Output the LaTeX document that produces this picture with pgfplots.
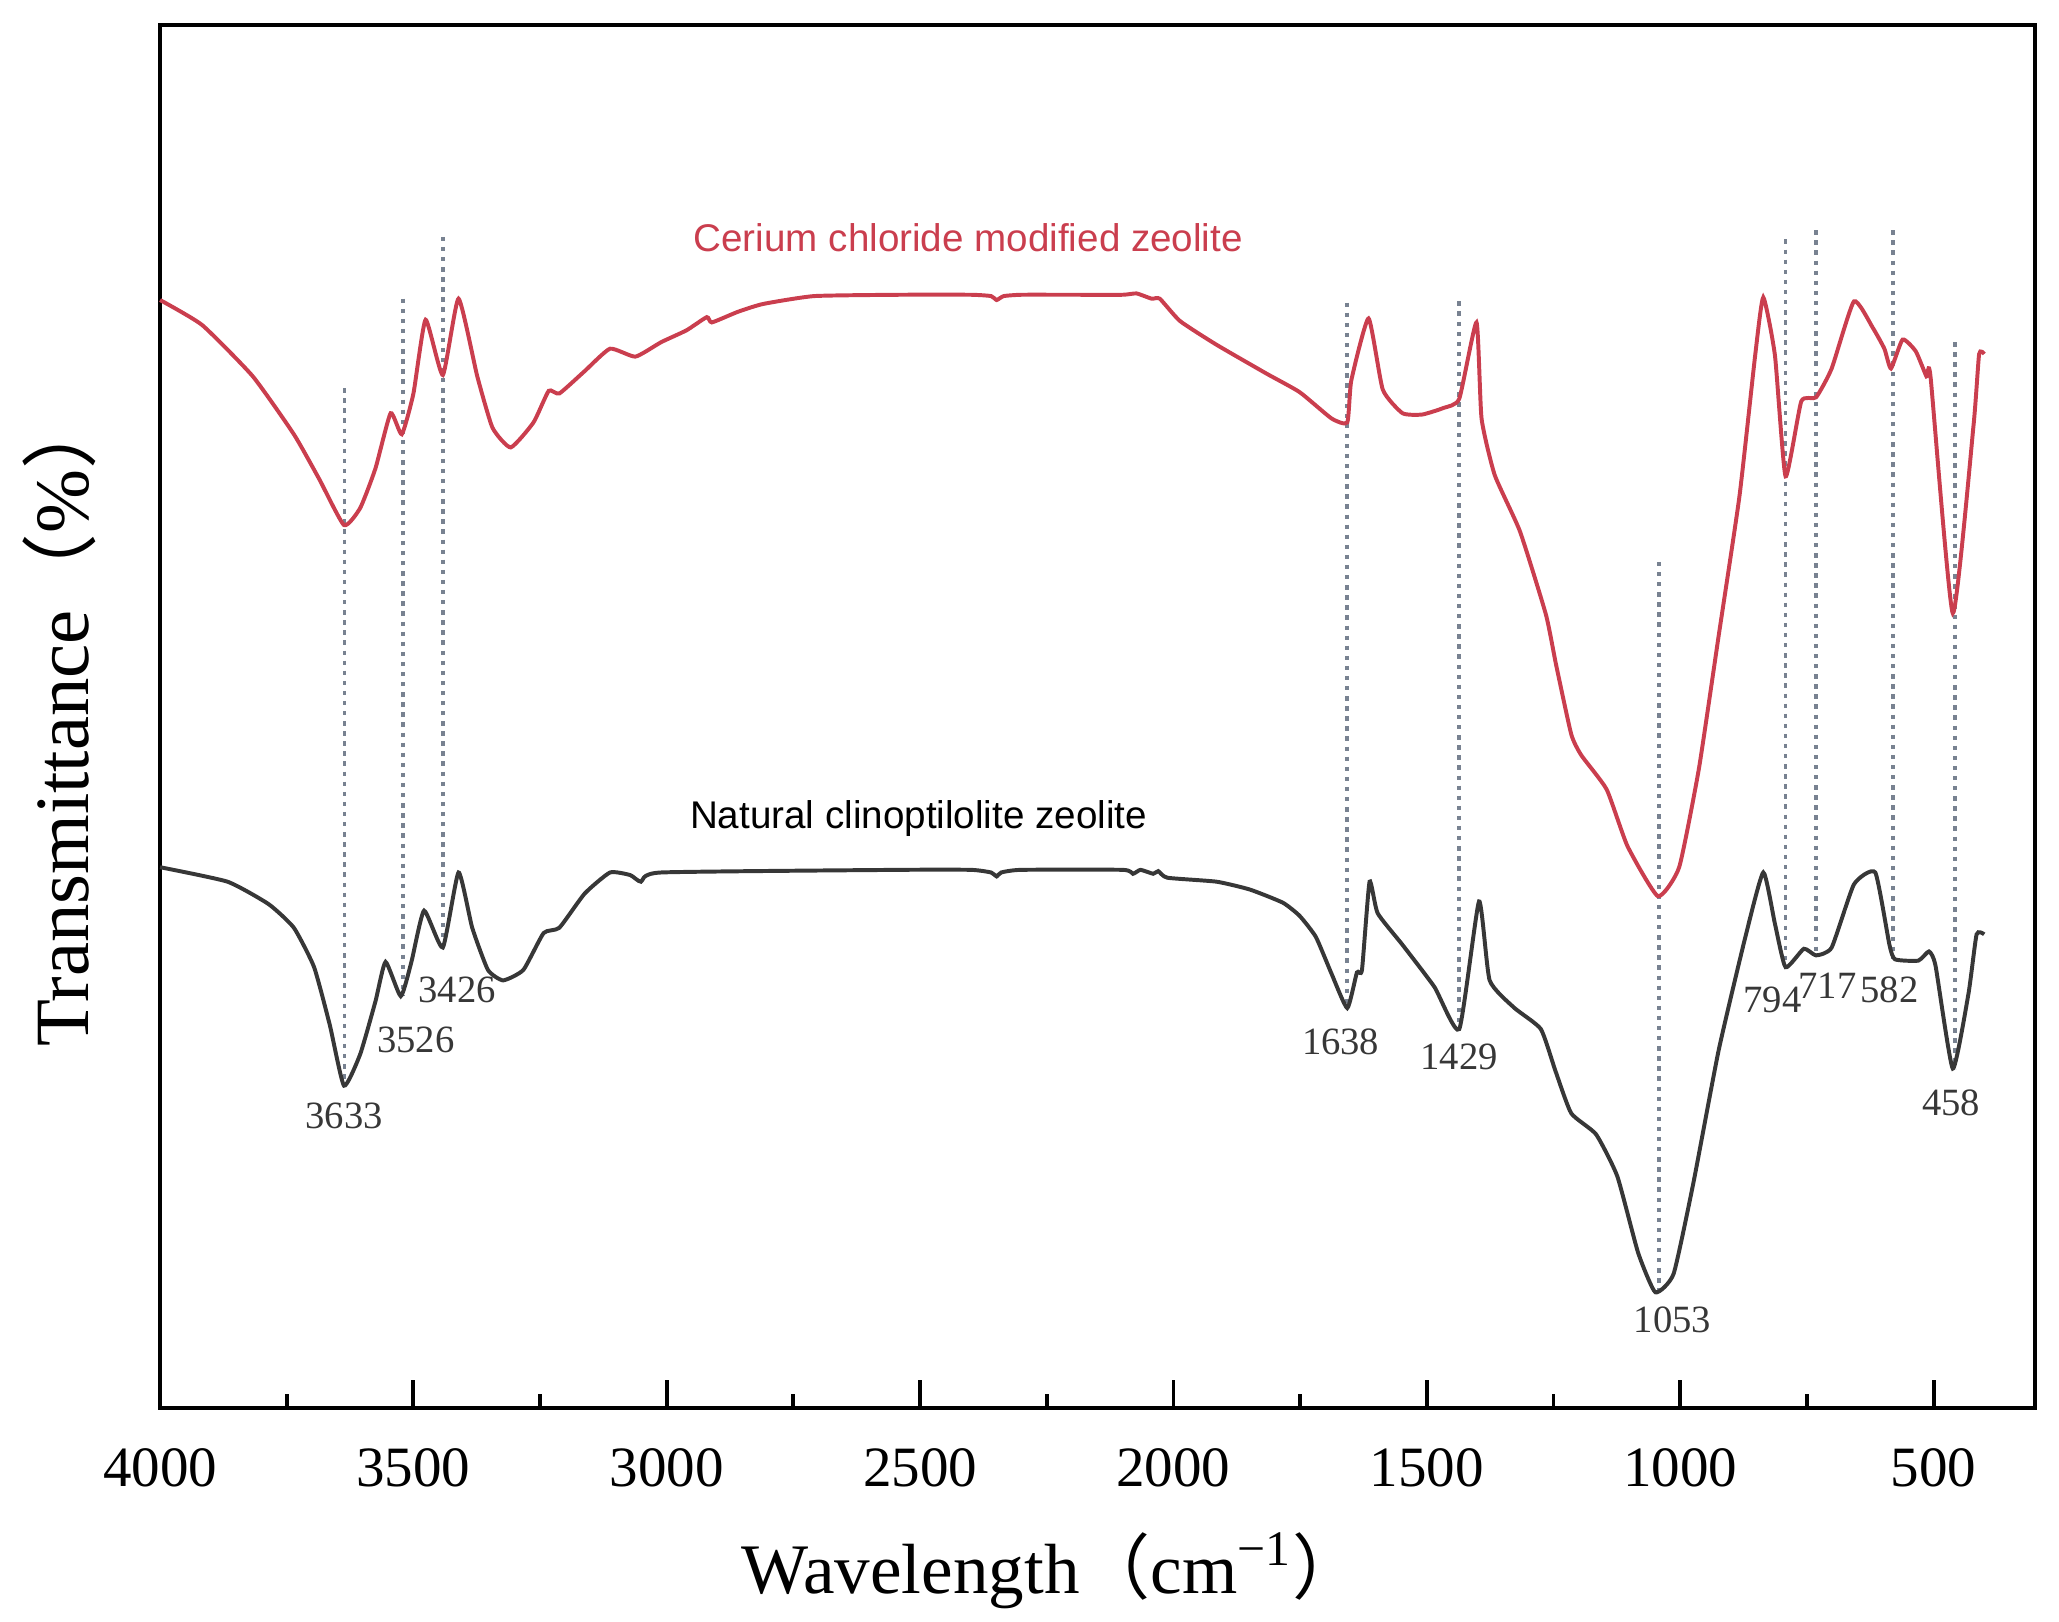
\documentclass[border=0pt]{standalone}
\usepackage{fontspec}
\setmainfont{Liberation Serif}
\newfontfamily\arial{Liberation Sans}
\newfontfamily\cjk{Noto Sans CJK SC}
\usepackage{pgfplots}
\pgfplotsset{compat=1.18}
\definecolor{redc}{RGB}{202,62,78}
\definecolor{blackc}{RGB}{55,55,55}
\definecolor{dashc}{RGB}{120,130,145}
\begin{document}
\begin{tikzpicture}
\begin{axis}[name=ax, scale only axis, width=427.4pt, height=315.3pt,
  xmin=300, xmax=4000, x dir=reverse, ymin=0, ymax=1051,
  xtick={500,1000,...,4000}, minor x tick num=1, ytick=\empty,
  xtick pos=left, tick align=inside,
  major tick length=6.5pt, minor tick length=3.2pt,
  every tick/.style={black, line width=0.9pt},
  axis line style={line width=1pt},
  xticklabel style={font=\fontsize{13}{13}\selectfont, anchor=base, yshift=-17.9pt},
  /pgf/number format/assume math mode=true, /pgf/number format/1000 sep={},
  clip=false]
% dashed guide lines
\addplot[dashc, line width=0.85pt, dash pattern=on 1pt off 1.3pt] coordinates {(3636,775) (3636,244)};
\addplot[dashc, line width=0.85pt, dash pattern=on 1pt off 1.3pt] coordinates {(3521,843) (3521,313)};
\addplot[dashc, line width=0.85pt, dash pattern=on 1pt off 1.3pt] coordinates {(3441,890) (3441,350)};
\addplot[dashc, line width=0.85pt, dash pattern=on 1pt off 1.3pt] coordinates {(1657,840) (1657,304)};
\addplot[dashc, line width=0.85pt, dash pattern=on 1pt off 1.3pt] coordinates {(1436,841) (1436,288)};
\addplot[dashc, line width=0.85pt, dash pattern=on 1pt off 1.3pt] coordinates {(1042,643) (1042,88)};
\addplot[dashc, line width=0.85pt, dash pattern=on 1pt off 1.3pt] coordinates {(792,888) (792,335)};
\addplot[dashc, line width=0.85pt, dash pattern=on 1pt off 1.3pt] coordinates {(732,895) (732,344)};
\addplot[dashc, line width=0.85pt, dash pattern=on 1pt off 1.3pt] coordinates {(580,895) (580,341)};
\addplot[dashc, line width=0.85pt, dash pattern=on 1pt off 1.3pt] coordinates {(457,810) (457,258)};
% Cerium chloride modified zeolite
\addplot[redc, line width=0.9pt, smooth, tension=0.3] coordinates {
(4000,842) (3917,823) (3817,784) (3736,740) (3686,706) (3637,671) (3605,684) (3575,714) (3545,756) (3523,740) (3500,771) (3476,827) (3442,785) (3411,843) (3374,784) (3344,745) (3308,730) (3263,749) (3233,773) (3212,771) (3162,788) (3112,805) (3062,799) (3011,810) (2961,819) (2921,829) (2911,825) (2860,833) (2810,839) (2709,845) (2540,846) (2400,846) (2360,845) (2349,842) (2335,845) (2300,846) (2200,846) (2100,846) (2073,847) (2043,843) (2027,843) (1987,826) (1915,808) (1816,786) (1751,772) (1688,752) (1657,749) (1649,781) (1615,828) (1587,774) (1548,756) (1509,755) (1467,760) (1436,767) (1402,825) (1392,752) (1366,709) (1316,666) (1265,603) (1245,565) (1215,512) (1195,496) (1145,470) (1104,427) (1044,389) (1002,411) (963,486) (924,587) (883,693) (852,800) (836,844) (813,800) (792,708) (761,765) (732,768) (701,790) (657,841) (620,821) (597,805) (584,790) (561,812) (535,803) (514,784) (506,784) (462,604) (421,747) (410,801) (400,801)};
% Natural clinoptilolite zeolite
\addplot[blackc, line width=0.9pt, smooth, tension=0.3] coordinates {
(4000,411) (3867,400) (3786,383) (3736,365) (3696,335) (3665,291) (3637,245) (3605,269) (3575,309) (3555,339) (3525,313) (3504,339) (3479,378) (3442,350) (3411,407) (3384,365) (3353,333) (3323,325) (3283,333) (3243,361) (3212,365) (3162,391) (3112,407) (3072,405) (3051,400) (3011,407) (2540,409) (2400,409) (2360,407) (2349,404) (2340,407) (2300,409) (2100,409) (2080,406) (2065,409) (2040,406) (2030,408) (2012,403) (1915,400) (1849,394) (1784,384) (1751,374) (1719,358) (1688,330) (1657,304) (1638,331) (1628,333) (1613,400) (1597,376) (1548,352) (1485,320) (1436,288) (1397,385) (1376,325) (1327,304) (1275,288) (1246,256) (1215,224) (1166,208) (1124,176) (1083,118) (1049,88) (1013,102) (974,171) (924,272) (872,357) (836,407) (813,368) (792,335) (756,349) (732,344) (701,350) (657,398) (615,407) (587,352) (576,341) (530,340) (509,347) (496,336) (462,258) (431,315) (415,360) (400,360)};
% labels
\node[font=\arial\fontsize{8.8}{9}\selectfont, text=redc] at (axis cs:2405,889) {Cerium chloride modified zeolite};
\node[font=\arial\fontsize{8.8}{9}\selectfont, text=black] at (axis cs:2503,448) {Natural clinoptilolite zeolite};
\begin{scope}[every node/.style={font=\fontsize{8.8}{9}\selectfont, text=blackc, inner sep=0pt}]
\node at (axis cs:3637,222) {3633};
\node at (axis cs:3495,280) {3526};
\node at (axis cs:3414,318) {3426};
\node at (axis cs:1670,278) {1638};
\node at (axis cs:1436,267) {1429};
\node at (axis cs:1015,67) {1053};
\node at (axis cs:818,310) {794};
\node at (axis cs:709,321) {717};
\node at (axis cs:587,318) {582};
\node at (axis cs:465,232) {458};
\end{scope}
\end{axis}
\node[anchor=base, font=\fontsize{16.2}{17}\selectfont] at ([shift={(-10.2pt,-42.2pt)}]ax.south) {Wavelength{\cjk （}cm\textsuperscript{−1}{\cjk ）}};
\node[anchor=base, rotate=90, font=\fontsize{17.5}{18}\selectfont] at ([shift={(-16.4pt,-0.75pt)}]ax.west) {Transmittance{\cjk （}\%{\cjk ）}};
\pgfresetboundingbox
\path[use as bounding box] ([shift={(-36.5pt,-48.75pt)}]ax.south west) rectangle ([shift={(5.5pt,5.7pt)}]ax.north east);
\end{tikzpicture}
\end{document}
